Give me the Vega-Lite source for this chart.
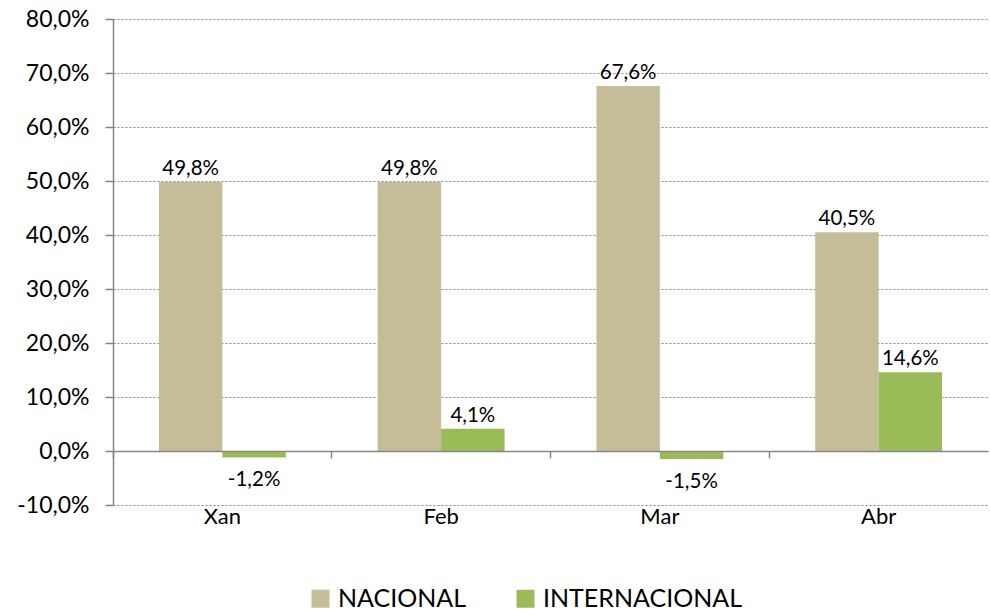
{
  "$schema": "https://vega.github.io/schema/vega-lite/v6.json",
  "width": 875,
  "height": 486,
  "autosize": {"type": "none"},
  "padding": {"left": 113, "top": 19, "right": 2, "bottom": 109},
  "config": {
    "locale": {"number": {"decimal": ",", "thousands": ".", "grouping": [3], "currency": ["", "€"], "minus": "-"}},
    "view": {"stroke": null},
    "font": "Lato",
    "text": {"font": "Lato", "fontSize": 20.5, "color": "#000000"}
  },
  "data": {
    "values": [
      {"mes": "Xan", "serie": "NACIONAL", "valor": 0.498},
      {"mes": "Xan", "serie": "INTERNACIONAL", "valor": -0.012},
      {"mes": "Feb", "serie": "NACIONAL", "valor": 0.498},
      {"mes": "Feb", "serie": "INTERNACIONAL", "valor": 0.041},
      {"mes": "Mar", "serie": "NACIONAL", "valor": 0.676},
      {"mes": "Mar", "serie": "INTERNACIONAL", "valor": -0.015},
      {"mes": "Abr", "serie": "NACIONAL", "valor": 0.405},
      {"mes": "Abr", "serie": "INTERNACIONAL", "valor": 0.146}
    ]
  },
  "encoding": {
    "y": {
      "field": "valor",
      "type": "quantitative",
      "scale": {"domain": [-0.1, 0.8], "nice": false, "zero": false},
      "axis": {
        "title": null,
        "values": [-0.1, 0, 0.1, 0.2, 0.3, 0.4, 0.5, 0.6, 0.7, 0.8],
        "format": ".1%",
        "labelFont": "Lato",
        "labelFontSize": 23,
        "labelColor": "#000000",
        "labelPadding": 16,
        "domain": true,
        "domainColor": "#868686",
        "domainWidth": 1.5,
        "ticks": true,
        "tickSize": 8,
        "tickColor": "#868686",
        "tickWidth": 1.5,
        "grid": true,
        "gridColor": "#868686",
        "gridDash": [2, 2],
        "gridWidth": 1
      }
    },
    "xOffset": {"field": "serie", "type": "nominal", "sort": ["NACIONAL", "INTERNACIONAL"]}
  },
  "resolve": {"axis": {"x": "independent"}},
  "layer": [
    {
      "mark": {"type": "bar"},
      "encoding": {
        "x": {
          "field": "mes",
          "type": "nominal",
          "sort": ["Xan", "Feb", "Mar", "Abr"],
          "scale": {"paddingInner": 0.42, "paddingOuter": 0.21},
          "axis": {
            "title": null,
            "orient": "bottom",
            "offset": -54,
            "labels": false,
            "domain": true,
            "domainColor": "#868686",
            "domainWidth": 1.5,
            "ticks": true,
            "tickSize": 7,
            "tickColor": "#868686",
            "tickWidth": 1.5,
            "bandPosition": -0.362,
            "grid": false,
            "zindex": 1
          }
        },
        "color": {
          "field": "serie",
          "type": "nominal",
          "sort": ["NACIONAL", "INTERNACIONAL"],
          "scale": {"domain": ["NACIONAL", "INTERNACIONAL"], "range": ["#C4BD97", "#9BBB59"]},
          "legend": {
            "title": null,
            "orient": "none",
            "legendX": 195,
            "legendY": 567,
            "direction": "horizontal",
            "symbolType": "square",
            "symbolSize": 324,
            "symbolStrokeWidth": 0,
            "labelFont": "Lato",
            "labelFontSize": 25,
            "labelColor": "#000000",
            "labelOffset": 5,
            "labelLimit": 400,
            "columnPadding": 46
          }
        }
      }
    },
    {
      "transform": [{"filter": "datum.valor >= 0"}],
      "mark": {"type": "text", "baseline": "bottom", "dy": -3},
      "encoding": {
        "x": {
          "field": "mes",
          "type": "nominal",
          "sort": ["Xan", "Feb", "Mar", "Abr"],
          "axis": {
            "title": null,
            "orient": "bottom",
            "labelFont": "Lato",
            "labelFontSize": 22,
            "labelColor": "#000000",
            "labelAngle": 0,
            "labelPadding": 1,
            "domain": false,
            "ticks": false,
            "tickSize": 0,
            "grid": false
          }
        },
        "text": {"field": "valor", "type": "quantitative", "format": ".1%"}
      }
    },
    {
      "transform": [{"filter": "datum.valor < 0"}],
      "mark": {"type": "text", "baseline": "top", "dy": 13},
      "encoding": {
        "x": {
          "field": "mes",
          "type": "nominal",
          "sort": ["Xan", "Feb", "Mar", "Abr"],
          "axis": null
        },
        "text": {"field": "valor", "type": "quantitative", "format": ".1%"}
      }
    }
  ]
}
